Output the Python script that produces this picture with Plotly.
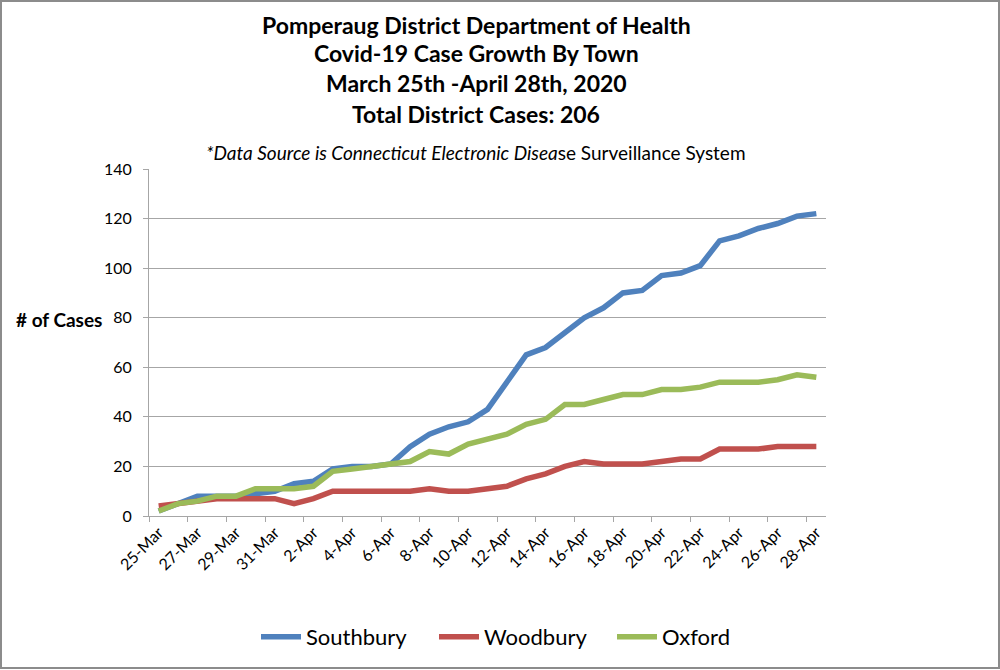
import plotly.graph_objects as go

dates = ["2020-03-25", "2020-03-26", "2020-03-27", "2020-03-28", "2020-03-29", "2020-03-30",
         "2020-03-31", "2020-04-01", "2020-04-02", "2020-04-03", "2020-04-04", "2020-04-05",
         "2020-04-06", "2020-04-07", "2020-04-08", "2020-04-09", "2020-04-10", "2020-04-11",
         "2020-04-12", "2020-04-13", "2020-04-14", "2020-04-15", "2020-04-16", "2020-04-17",
         "2020-04-18", "2020-04-19", "2020-04-20", "2020-04-21", "2020-04-22", "2020-04-23",
         "2020-04-24", "2020-04-25", "2020-04-26", "2020-04-27", "2020-04-28"]

southbury = [2, 5, 8, 8, 8, 9, 10, 13, 14, 19, 20, 20, 21, 28, 33, 36, 38, 43, 54, 65,
             68, 74, 80, 84, 90, 91, 97, 98, 101, 111, 113, 116, 118, 121, 122]
woodbury = [4, 5, 6, 7, 7, 7, 7, 5, 7, 10, 10, 10, 10, 10, 11, 10, 10, 11, 12, 15,
            17, 20, 22, 21, 21, 21, 22, 23, 23, 27, 27, 27, 28, 28, 28]
oxford = [2, 5, 6, 8, 8, 11, 11, 11, 12, 18, 19, 20, 21, 22, 26, 25, 29, 31, 33, 37,
          39, 45, 45, 47, 49, 49, 51, 51, 52, 54, 54, 54, 55, 57, 56]

series_names = ["Southbury", "Woodbury", "Oxford"]
series_colors = ["#4F81BD", "#C0504D", "#9BBB59"]

title_lines = ["Pomperaug District Department of Health",
               "Covid-19 Case Growth By Town",
               "March 25th -April 28th, 2020",
               "Total District Cases: 206"]
subtitle = "<i>*Data Source is Connecticut Electronic Disea</i>se Surveillance System"
y_title = "# of Cases"

FONT = "Lato, 'Open Sans', sans-serif"
GRID = "#A6A6A6"

fig = go.Figure()
for name, vals, col in zip(series_names, [southbury, woodbury, oxford], series_colors):
    fig.add_trace(go.Scatter(x=dates, y=vals, name=name, mode="lines",
                             line=dict(color=col, width=5.5)))

W, H = 1000, 670
L, R, T, B = 149, 174, 169, 154
pw, ph = W - L - R, H - T - B

def py(Y):
    return (H - B - Y) / ph

def px(X):
    return (X - L) / pw

anns = []
for txt, Y in zip(title_lines, [25, 53, 83, 114]):
    anns.append(dict(text="<b>" + txt + "</b>", x=px(476), y=py(Y), xref="paper", yref="paper",
                     showarrow=False, xanchor="center", yanchor="middle",
                     font=dict(family=FONT, size=23, color="black")))
anns.append(dict(text=subtitle, x=px(476), y=py(152), xref="paper", yref="paper",
                 showarrow=False, xanchor="center", yanchor="middle",
                 font=dict(family=FONT, size=19, color="black")))
anns.append(dict(text="<b>" + y_title + "</b>", x=px(14), y=py(319), xref="paper", yref="paper",
                 showarrow=False, xanchor="left", yanchor="middle",
                 font=dict(family=FONT, size=19, color="black")))

fig.update_layout(
    width=W, height=H,
    margin=dict(l=L, r=R, t=T, b=B, autoexpand=False),
    plot_bgcolor="white", paper_bgcolor="white",
    font=dict(family=FONT, color="black"),
    showlegend=True,
    legend=dict(orientation="h", x=px(256), xanchor="left", y=py(637), yanchor="middle",
                font=dict(family=FONT, size=22, color="black"), itemwidth=40,
                entrywidth=123, entrywidthmode="pixels",
                tracegroupgap=0),
    annotations=anns,
    shapes=[dict(type="rect", xref="paper", yref="paper",
                 x0=px(1), x1=px(999), y0=py(668), y1=py(1),
                 line=dict(color="#8C8C8C", width=2), fillcolor="rgba(0,0,0,0)", layer="below")],
)

fig.update_xaxes(
    range=["2020-03-24 12:00", "2020-04-28 12:00"],
    tick0="2020-03-25", dtick=2 * 86400000, tickformat="%-d-%b", tickangle=-45,
    ticks="", showgrid=False, zeroline=False,
    showline=True, linecolor=GRID, linewidth=1,
    tickfont=dict(family=FONT, size=16, color="black"),
    minor=dict(ticks="outside", ticklen=5, tickcolor=GRID, tickwidth=1,
               tick0="2020-03-24 12:00", dtick=2 * 86400000, showgrid=False),
)
fig.update_yaxes(
    range=[0, 140], dtick=20, showgrid=True, gridcolor=GRID, gridwidth=1,
    zeroline=False, showline=True, linecolor=GRID, linewidth=1,
    ticks="outside", ticklen=5, tickcolor=GRID,
    ticklabelstandoff=8,
    tickfont=dict(family=FONT, size=16, color="black"),
)

fig.write_html("out.html")
